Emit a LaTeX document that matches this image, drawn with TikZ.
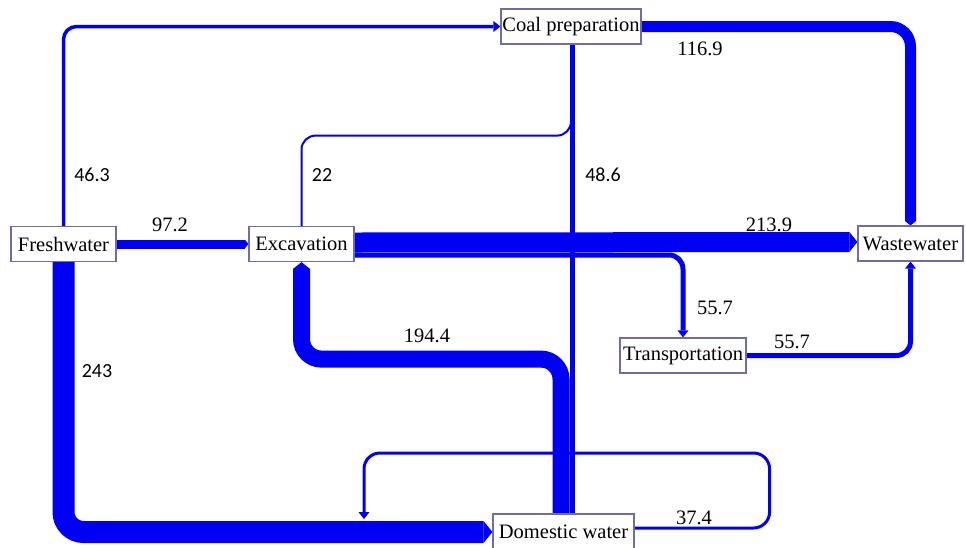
\documentclass[tikz,border=0pt]{standalone}
\usepackage{fontspec}
\setmainfont{Liberation Serif}
\newfontfamily\lblsans{Carlito}
\usetikzlibrary{arrows.meta,calc}
\pgfdeclarelayer{bg}
\pgfsetlayers{bg,main}
\definecolor{flowblue}{RGB}{0,0,245}
\definecolor{boxline}{RGB}{110,110,165}
\begin{document}
\begin{tikzpicture}[x=1pt,y=-1pt,
  box/.style={draw=boxline, line width=1.2pt, fill=white, inner sep=0pt,
    font=\fontsize{20.5}{24}\selectfont, minimum height=35pt},
  num/.style={inner sep=0pt, font=\fontsize{20.5}{24}\selectfont},
  numsans/.style={inner sep=0pt, font=\lblsans\fontsize{20}{24}\selectfont},
  flow/.style={draw=flowblue, line width=#1},
  bandtip/.style={-{Triangle[width=0pt 1, length=0pt 0.4, line width=0pt]}},
  thintip/.style={-{Triangle[length=7pt, width=11pt, line width=0pt]}},
]
\useasboundingbox (0,0) rectangle (966,547);

% nodes
\node[box, minimum width=105pt] (fw) at (63.5,244) {Freshwater};
\node[box, minimum width=105pt] (ex) at (301.5,244) {Excavation};
\node[box, minimum width=140pt] (cp) at (571,26.5) {Coal preparation};
\node[box, minimum width=105pt] (ww) at (910.5,243.5) {Wastewater};
\node[box, minimum width=126pt] (tr) at (683,355.5) {Transportation};
\node[box, minimum width=141pt, minimum height=36pt] (dw) at (563.5,532) {Domestic water};

% connectors
\begin{pgfonlayer}{bg}
\fill[white] (0,0) rectangle (966,547);
% 46.3 Freshwater -> Coal preparation
\draw[flow=3.5pt, rounded corners=13pt, thintip] (fw.north) |- (cp.west);
% 97.2 Freshwater -> Excavation
\draw[flow=9pt, bandtip] (fw.east) -- (ex.west);
% 243 Freshwater -> Domestic water
\draw[flow=22pt, rounded corners=20pt, bandtip] (fw.south) |- (dw.west);
% 213.9 Excavation -> Wastewater
\draw[flow=20pt, bandtip] ($(ex.east)+(0,-1.5)$) -- ($(ww.west)+(0,-1.5)$);
% 55.7 Excavation -> Transportation
\draw[flow=5pt, rounded corners=14pt, thintip] ($(ex.east)+(0,11)$) -| (tr.north);
% 22 Excavation -> Coal preparation
\draw[flow=2pt, rounded corners=14pt] (ex.north) |- ($(cp.south)+(0,91)$) -- (cp.south);
% 194.4 Domestic water -> Excavation
\draw[flow=17pt, rounded corners=20pt, bandtip] ($(dw.north)+(-2.5,0)$) |- ($(ex.south)+(0,97)$) -- (ex.south);
% 48.6 Coal preparation -- Domestic water
\draw[flow=5pt] ($(cp.south)+(1,0)$) -- ($(dw.north)+(8.5,0)$);
% 55.7 Transportation -> Wastewater
\draw[flow=5pt, rounded corners=14pt, thintip] (tr.east) -| (ww.south);
% 116.9 Coal preparation -> Wastewater
\draw[flow=11pt, rounded corners=20pt, bandtip] (cp.east) -| (ww.north);
% 37.4 Domestic water loop
\coordinate (d37) at (364,519);
\draw[flow=3pt, rounded corners=16pt, thintip] ($(dw.east)+(0,-4)$) -| ($(dw.east)+(135,-79)$) -| (d37);
\end{pgfonlayer}

% labels
\node[numsans] (l463) at (92,175) {46.3};
\node[num] (l972) at (170,225) {97.2};
\node[numsans] (l22) at (322,175) {22};
\node[numsans] (l486) at (603,175) {48.6};
\node[num] (l1169) at (700,49) {116.9};
\node[num] (l2139) at (769,225) {213.9};
\node[num] (l1944) at (427,336) {194.4};
\node[num] (l557a) at (715,308) {55.7};
\node[num] (l557b) at (792,342) {55.7};
\node[numsans] (l243) at (97,371) {243};
\node[num] (l374) at (694,518) {37.4};
\end{tikzpicture}
\end{document}
